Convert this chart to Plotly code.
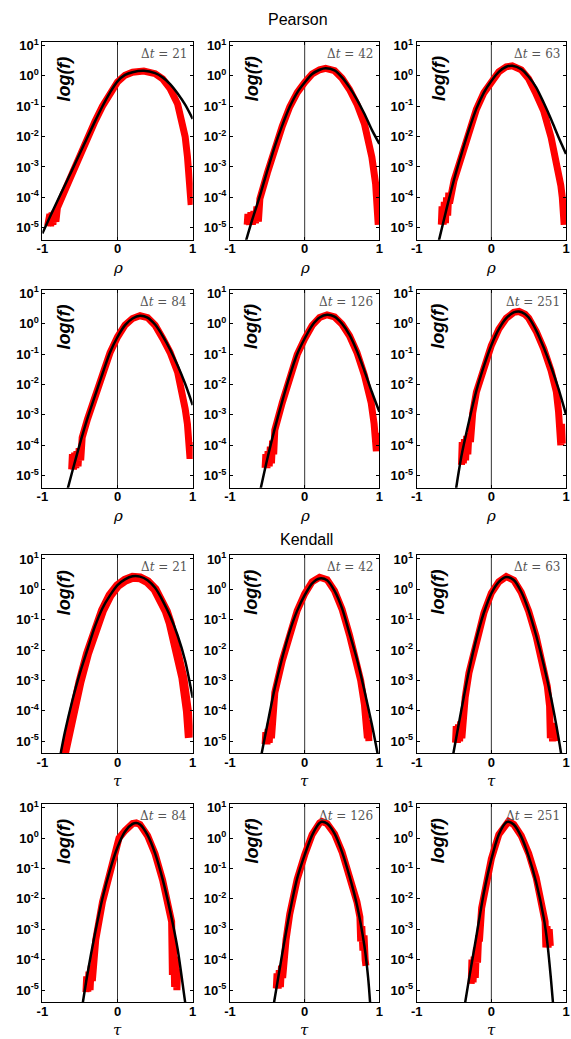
import numpy as np
import plotly.graph_objects as go

W, H = 571, 1039

section_titles = ["Pearson", "Kendall"]
dt_values = [21, 42, 63, 84, 126, 251]
x_symbols = ["ρ", "τ"]
x_tick_vals = [-1, 0, 1]
x_tick_text = ["-1", "0", "1"]
y_tick_vals = [1e1, 1e0, 1e-1, 1e-2, 1e-3, 1e-4, 1e-5]
y_tick_text = ["10<sup>1</sup>", "10<sup>0</sup>", "10<sup>-1</sup>", "10<sup>-2</sup>",
               "10<sup>-3</sup>", "10<sup>-4</sup>", "10<sup>-5</sup>"]

# ---------------- Pearson (rho) : fitted curve (black) and empirical (red), log10 f ----------------
p21_fit_x = [-1.0, -0.9, -0.8, -0.7, -0.6, -0.5, -0.4, -0.3, -0.2, -0.1, 0.0, 0.1, 0.2, 0.35, 0.5, 0.6, 0.7, 0.8, 0.9, 1.0]
p21_fit_logf = [-5.19, -4.65, -4.12, -3.6, -3.08, -2.55, -2.02, -1.5, -1.0, -0.55, -0.18, 0.03, 0.12, 0.165, 0.09, -0.05, -0.27, -0.58, -0.95, -1.42]
p21_emp_x = [-0.93, -0.92, -0.91, -0.9, -0.89, -0.87, -0.86, -0.84, -0.82, -0.8, -0.7, -0.6, -0.5, -0.4, -0.3, -0.2, -0.1, 0.0,
             0.1, 0.2, 0.35, 0.5, 0.6, 0.7, 0.8, 0.85, 0.9, 0.93, 0.95, 0.97, 0.98]
p21_emp_logf = [-4.95, -4.6, -4.95, -4.55, -4.95, -4.5, -4.9, -4.45, -4.8, -4.35, -3.77, -3.17, -2.62, -2.05, -1.5, -1.0, -0.55, -0.2,
                0.02, 0.12, 0.16, 0.07, -0.1, -0.42, -0.93, -1.37, -2.0, -2.65, -3.3, -3.95, -4.25]

p42_fit_x = [-0.8, -0.7, -0.6, -0.5, -0.4, -0.3, -0.2, -0.1, 0.0, 0.1, 0.2, 0.28, 0.4, 0.5, 0.6, 0.7, 0.8, 0.9, 1.0]
p42_fit_logf = [-5.55, -4.72, -3.95, -3.12, -2.32, -1.63, -1.02, -0.55, -0.22, 0.06, 0.2, 0.25, 0.18, -0.05, -0.38, -0.78, -1.25, -1.78, -2.24]
p42_emp_x = [-0.77, -0.76, -0.74, -0.72, -0.7, -0.68, -0.66, -0.64, -0.62, -0.6, -0.5, -0.4, -0.3, -0.2, -0.1, 0.0,
             0.1, 0.2, 0.28, 0.4, 0.5, 0.6, 0.7, 0.8, 0.9, 0.95, 0.97, 0.975, 0.98, 0.985, 0.99]
p42_emp_logf = [-4.9, -4.55, -4.9, -4.5, -4.9, -4.45, -4.85, -4.3, -4.8, -4.05, -3.2, -2.38, -1.66, -1.02, -0.55, -0.22,
                0.06, 0.2, 0.25, 0.17, -0.08, -0.45, -0.93, -1.58, -2.68, -3.55, -4.2, -4.85, -4.3, -4.9, -4.4]

p63_fit_x = [-0.72, -0.6, -0.5, -0.4, -0.3, -0.2, -0.1, 0.0, 0.1, 0.2, 0.28, 0.4, 0.5, 0.6, 0.7, 0.8, 0.9, 1.0]
p63_fit_logf = [-5.6, -4.38, -3.42, -2.57, -1.78, -1.08, -0.55, -0.17, 0.13, 0.3, 0.33, 0.22, -0.03, -0.38, -0.88, -1.43, -2.02, -2.57]
p63_emp_x = [-0.67, -0.66, -0.645, -0.63, -0.615, -0.6, -0.585, -0.57, -0.56, -0.5, -0.4, -0.3, -0.2, -0.1, 0.0,
             0.1, 0.2, 0.28, 0.4, 0.5, 0.6, 0.7, 0.8, 0.9, 0.93, 0.95, 0.955, 0.965, 0.975, 0.985, 0.99]
p63_emp_logf = [-4.9, -4.3, -4.9, -4.15, -4.85, -4.0, -4.6, -3.85, -4.2, -3.45, -2.6, -1.8, -1.1, -0.56, -0.18,
                0.13, 0.3, 0.33, 0.2, -0.1, -0.6, -1.15, -2.02, -3.11, -3.6, -4.0, -4.9, -4.1, -4.9, -4.2, -4.8]

p84_fit_x = [-0.68, -0.6, -0.5, -0.4, -0.3, -0.2, -0.1, 0.0, 0.1, 0.2, 0.3, 0.4, 0.5, 0.6, 0.7, 0.8, 0.9, 1.0]
p84_fit_logf = [-5.6, -4.85, -3.95, -3.12, -2.38, -1.65, -0.95, -0.44, -0.05, 0.17, 0.26, 0.2, -0.03, -0.4, -0.85, -1.38, -1.98, -2.68]
p84_emp_x = [-0.61, -0.6, -0.585, -0.57, -0.555, -0.54, -0.525, -0.51, -0.49, -0.47, -0.4, -0.3, -0.2, -0.1, 0.0,
             0.1, 0.2, 0.3, 0.4, 0.5, 0.6, 0.7, 0.8, 0.87, 0.9, 0.93, 0.94, 0.945, 0.955, 0.965, 0.975, 0.98]
p84_emp_logf = [-4.8, -4.3, -4.8, -4.25, -4.75, -4.2, -4.7, -4.1, -4.5, -3.75, -3.15, -2.4, -1.66, -0.96, -0.44,
                -0.05, 0.17, 0.26, 0.2, -0.05, -0.48, -0.95, -1.6, -2.3, -2.8, -3.3, -3.8, -4.4, -3.9, -4.45, -3.9, -4.4]

p126_fit_x = [-0.6, -0.5, -0.4, -0.3, -0.2, -0.1, 0.0, 0.1, 0.2, 0.3, 0.4, 0.5, 0.6, 0.7, 0.8, 0.9, 1.0]
p126_fit_logf = [-5.55, -4.45, -3.45, -2.55, -1.72, -1.0, -0.49, -0.06, 0.2, 0.29, 0.23, 0.0, -0.37, -0.9, -1.55, -2.25, -2.9]
p126_emp_x = [-0.53, -0.52, -0.505, -0.49, -0.475, -0.46, -0.445, -0.43, -0.415, -0.4, -0.3, -0.2, -0.1, 0.0,
              0.1, 0.2, 0.3, 0.4, 0.5, 0.6, 0.7, 0.8, 0.89, 0.93, 0.94, 0.95, 0.96, 0.97, 0.98]
p126_emp_logf = [-4.75, -4.3, -4.75, -4.2, -4.7, -4.05, -4.6, -3.85, -4.3, -3.5, -2.6, -1.75, -1.02, -0.5,
                 -0.06, 0.2, 0.29, 0.22, -0.02, -0.4, -0.95, -1.7, -2.6, -3.3, -4.2, -3.6, -4.2, -3.6, -4.2]

p251_fit_x = [-0.48, -0.4, -0.3, -0.2, -0.1, 0.0, 0.1, 0.2, 0.3, 0.37, 0.45, 0.5, 0.6, 0.7, 0.8, 0.9, 1.0]
p251_fit_logf = [-5.55, -4.35, -3.22, -2.2, -1.4, -0.71, -0.18, 0.18, 0.37, 0.4, 0.32, 0.2, -0.22, -0.78, -1.42, -2.15, -3.0]
p251_emp_x = [-0.4, -0.39, -0.375, -0.36, -0.345, -0.33, -0.315, -0.3, -0.28, -0.25, -0.2, -0.1, 0.0,
              0.1, 0.2, 0.3, 0.37, 0.45, 0.5, 0.6, 0.7, 0.8, 0.87, 0.9, 0.91, 0.92, 0.93, 0.94, 0.95]
p251_emp_logf = [-4.65, -3.9, -4.6, -3.8, -4.5, -3.7, -4.3, -3.6, -3.9, -2.95, -2.25, -1.42, -0.72,
                 -0.18, 0.18, 0.37, 0.4, 0.31, 0.18, -0.25, -0.82, -1.55, -2.24, -2.9, -3.9, -3.2, -4.0, -3.3, -3.95]

# ---------------- Kendall (tau) ----------------
k21_fit_x = [-0.76, -0.7, -0.6, -0.5, -0.4, -0.3, -0.2, -0.1, 0.0, 0.1, 0.2, 0.3, 0.4, 0.5, 0.6, 0.7, 0.8, 0.9, 1.0]
k21_fit_logf = [-5.45, -4.7, -3.65, -2.75, -1.98, -1.22, -0.62, -0.2, 0.14, 0.33, 0.43, 0.42, 0.3, 0.05, -0.37, -0.88, -1.52, -2.35, -3.57]
k21_emp_x = [-0.71, -0.6, -0.5, -0.4, -0.3, -0.2, -0.1, 0.0, 0.1, 0.2, 0.3, 0.4, 0.5, 0.6, 0.65, 0.7, 0.78, 0.87, 0.93, 0.956]
k21_emp_logf = [-5.45, -4.1, -3.05, -2.12, -1.32, -0.7, -0.2, 0.12, 0.3, 0.4, 0.38, 0.25, 0.0, -0.45, -0.73, -1.1, -1.83, -2.92, -4.01, -4.89]

k42_fit_x = [-0.58, -0.5, -0.4, -0.3, -0.2, -0.1, 0.0, 0.1, 0.2, 0.3, 0.4, 0.5, 0.6, 0.7, 0.8, 0.9, 0.98]
k42_fit_logf = [-5.45, -4.45, -3.25, -2.25, -1.38, -0.7, -0.19, 0.2, 0.36, 0.3, -0.05, -0.62, -1.45, -2.3, -3.33, -4.45, -5.45]
k42_emp_x = [-0.53, -0.52, -0.505, -0.49, -0.475, -0.46, -0.445, -0.43, -0.415, -0.4, -0.3, -0.2, -0.1, 0.0,
             0.1, 0.2, 0.3, 0.4, 0.5, 0.6, 0.7, 0.75, 0.8, 0.82, 0.83, 0.84, 0.85, 0.86]
k42_emp_logf = [-5.1, -4.7, -5.1, -4.6, -5.05, -4.4, -4.9, -4.1, -4.5, -3.4, -2.35, -1.42, -0.7, -0.15,
                0.25, 0.4, 0.32, -0.05, -0.65, -1.5, -2.45, -3.0, -3.79, -4.7, -4.1, -4.9, -4.3, -5.0]

k63_fit_x = [-0.52, -0.4, -0.3, -0.2, -0.1, 0.0, 0.1, 0.2, 0.3, 0.4, 0.5, 0.6, 0.7, 0.8, 0.9, 0.94]
k63_fit_logf = [-5.55, -3.95, -2.68, -1.62, -0.77, -0.13, 0.25, 0.41, 0.31, -0.08, -0.7, -1.52, -2.47, -3.57, -4.89, -5.5]
k63_emp_x = [-0.48, -0.47, -0.455, -0.44, -0.425, -0.41, -0.395, -0.38, -0.365, -0.35, -0.3, -0.2, -0.1, 0.0,
             0.1, 0.2, 0.3, 0.4, 0.5, 0.6, 0.7, 0.75, 0.78, 0.79, 0.805, 0.82, 0.835, 0.85]
k63_emp_logf = [-5.05, -4.5, -5.05, -4.45, -5.0, -4.35, -4.9, -4.1, -4.5, -3.55, -2.75, -1.66, -0.78, -0.12,
                0.25, 0.42, 0.3, -0.1, -0.72, -1.55, -2.55, -3.2, -3.85, -4.9, -4.4, -5.0, -4.5, -5.0]

k84_fit_x = [-0.47, -0.4, -0.3, -0.2, -0.1, 0.0, 0.1, 0.2, 0.25, 0.3, 0.4, 0.5, 0.6, 0.7, 0.8, 0.9, 0.92]
k84_fit_logf = [-5.55, -4.47, -3.15, -1.98, -1.05, -0.3, 0.22, 0.47, 0.5, 0.45, 0.1, -0.5, -1.35, -2.4, -3.65, -5.4, -5.7]
k84_emp_x = [-0.42, -0.41, -0.395, -0.38, -0.365, -0.35, -0.335, -0.32, -0.305, -0.29, -0.2, -0.1, -0.02, 0.0, 0.02,
             0.1, 0.2, 0.25, 0.3, 0.4, 0.5, 0.6, 0.72, 0.73, 0.745, 0.76, 0.775, 0.79, 0.8]
k84_emp_logf = [-5.07, -4.55, -5.05, -4.4, -5.0, -4.2, -4.7, -3.9, -4.3, -3.35, -2.1, -1.1, -0.45, -0.1, 0.0,
                0.25, 0.48, 0.5, 0.45, 0.08, -0.52, -1.38, -2.75, -4.5, -3.4, -4.9, -3.9, -5.0, -4.3]

k126_fit_x = [-0.42, -0.3, -0.2, -0.1, 0.0, 0.1, 0.2, 0.23, 0.3, 0.4, 0.5, 0.6, 0.7, 0.8, 0.85, 0.88]
k126_fit_logf = [-5.55, -3.8, -2.45, -1.32, -0.55, 0.1, 0.5, 0.54, 0.48, 0.15, -0.45, -1.25, -2.2, -3.55, -4.6, -5.55]
k126_emp_x = [-0.38, -0.37, -0.355, -0.34, -0.325, -0.31, -0.295, -0.28, -0.265, -0.25, -0.2, -0.1, 0.0,
              0.1, 0.2, 0.23, 0.3, 0.4, 0.5, 0.6, 0.7, 0.74, 0.75, 0.765, 0.78, 0.795, 0.81, 0.82]
k126_emp_logf = [-4.95, -4.45, -4.95, -4.35, -4.9, -4.2, -4.6, -3.85, -4.1, -3.35, -2.5, -1.35, -0.55,
                 0.12, 0.5, 0.55, 0.48, 0.14, -0.45, -1.22, -2.1, -2.6, -3.4, -2.9, -3.7, -3.2, -4.0, -4.2]

k251_fit_x = [-0.36, -0.3, -0.2, -0.1, 0.0, 0.1, 0.2, 0.23, 0.3, 0.4, 0.5, 0.6, 0.7, 0.75, 0.8, 0.83]
k251_fit_logf = [-5.55, -4.65, -3.22, -1.8, -0.7, 0.12, 0.52, 0.54, 0.45, 0.05, -0.6, -1.45, -2.6, -3.45, -4.69, -5.55]
k251_emp_x = [-0.27, -0.26, -0.245, -0.23, -0.215, -0.2, -0.185, -0.17, -0.16, -0.13, -0.05, 0.0,
              0.1, 0.2, 0.23, 0.3, 0.4, 0.5, 0.6, 0.65, 0.7, 0.72, 0.73, 0.745, 0.76, 0.775, 0.79]
k251_emp_logf = [-4.8, -4.0, -4.75, -3.9, -4.6, -3.6, -4.1, -3.2, -3.4, -2.3, -1.2, -0.68,
                 0.12, 0.53, 0.55, 0.45, 0.08, -0.5, -1.3, -1.9, -2.4, -2.75, -3.6, -2.9, -3.6, -3.0, -3.55]

panels = [
    (p21_fit_x, p21_fit_logf, p21_emp_x, p21_emp_logf),
    (p42_fit_x, p42_fit_logf, p42_emp_x, p42_emp_logf),
    (p63_fit_x, p63_fit_logf, p63_emp_x, p63_emp_logf),
    (p84_fit_x, p84_fit_logf, p84_emp_x, p84_emp_logf),
    (p126_fit_x, p126_fit_logf, p126_emp_x, p126_emp_logf),
    (p251_fit_x, p251_fit_logf, p251_emp_x, p251_emp_logf),
    (k21_fit_x, k21_fit_logf, k21_emp_x, k21_emp_logf),
    (k42_fit_x, k42_fit_logf, k42_emp_x, k42_emp_logf),
    (k63_fit_x, k63_fit_logf, k63_emp_x, k63_emp_logf),
    (k84_fit_x, k84_fit_logf, k84_emp_x, k84_emp_logf),
    (k126_fit_x, k126_fit_logf, k126_emp_x, k126_emp_logf),
    (k251_fit_x, k251_fit_logf, k251_emp_x, k251_emp_logf),
]

# ---------------- layout geometry (pixels) ----------------
col_px = [(37, 190), (228, 380), (418, 570)]
row_px = [(37, 236), (286, 485), (553, 752), (803, 1002)]
Y_RANGE = [-5.4, 1.12]

fig = go.Figure()
layout = dict(
    width=W, height=H, margin=dict(l=0, r=0, t=0, b=0),
    plot_bgcolor="white", paper_bgcolor="white", showlegend=False,
)
shapes = []
annotations = []

tick_font = dict(family="Liberation Sans, Arial, sans-serif", size=13, color="black", weight="bold")

for i, (fx, fl, ex, el) in enumerate(panels):
    r, c = divmod(i, 3)
    n = "" if i == 0 else str(i + 1)
    xl, xr = col_px[c]
    yt, yb = row_px[r]

    fig.add_trace(go.Scatter(
        x=ex, y=10 ** np.array(el), mode="lines",
        line=dict(color="#ff0000", width=9 if i == 6 else 7),
        xaxis="x" + n, yaxis="y" + n, hoverinfo="skip"))
    fig.add_trace(go.Scatter(
        x=fx, y=10 ** np.array(fl), mode="lines",
        line=dict(color="black", width=2.5, shape="spline", smoothing=0.8),
        xaxis="x" + n, yaxis="y" + n, hoverinfo="skip"))

    layout["xaxis" + n] = dict(
        domain=[xl / W, xr / W], range=[-1, 1], anchor="y" + n,
        tickvals=x_tick_vals, ticktext=x_tick_text, tickfont=tick_font,
        ticklabelstandoff=-3,
        showgrid=False, zeroline=False, showline=True, linecolor="black", linewidth=1,
        mirror="ticks", ticks="inside", ticklen=3, tickcolor="black")
    layout["yaxis" + n] = dict(
        domain=[1 - yb / H, 1 - yt / H], type="log", range=Y_RANGE, anchor="x" + n,
        tickvals=y_tick_vals, ticktext=y_tick_text, tickfont=tick_font,
        showgrid=False, zeroline=False, showline=True, linecolor="black", linewidth=1,
        mirror="ticks", ticks="inside", ticklen=3, tickcolor="black")

    shapes.append(dict(type="line", xref="x" + n, yref="y" + n + " domain",
                       x0=0, x1=0, y0=0, y1=1, layer="below",
                       line=dict(color="#333333", width=1)))

    annotations.append(dict(
        text="<b><i>log(f)</i></b>", textangle=-90, showarrow=False,
        xref="paper", yref="paper", x=(xl + 22) / W, y=1 - (yt + 37) / H,
        xanchor="center", yanchor="middle",
        font=dict(family="Liberation Sans, Arial, sans-serif", size=18, color="black")))
    annotations.append(dict(
        text="Δ<i>t</i> = " + str(dt_values[i % 6]), showarrow=False,
        xref="paper", yref="paper", x=(xr - 4) / W, y=1 - (yt + 12) / H,
        xanchor="right", yanchor="middle",
        font=dict(family="DejaVu Serif, serif", size=12, color="#555555")))
    annotations.append(dict(
        text="<i>" + x_symbols[i // 6] + "</i>", showarrow=False,
        xref="paper", yref="paper", x=(xl + xr) / 2 / W, y=1 - (yb + 28) / H,
        xanchor="center", yanchor="middle",
        font=dict(family="DejaVu Serif, serif", size=15, color="black")))

annotations.append(dict(text=section_titles[0], showarrow=False, xref="paper", yref="paper",
                        x=297 / W, y=1 - 15 / H, xanchor="center", yanchor="middle",
                        font=dict(family="Liberation Sans, Arial, sans-serif", size=16, color="black")))
annotations.append(dict(text=section_titles[1], showarrow=False, xref="paper", yref="paper",
                        x=306 / W, y=1 - 537 / H, xanchor="center", yanchor="middle",
                        font=dict(family="Liberation Sans, Arial, sans-serif", size=16, color="black")))

layout["shapes"] = shapes
layout["annotations"] = annotations
fig.update_layout(**layout)
fig.write_html("out.html")
